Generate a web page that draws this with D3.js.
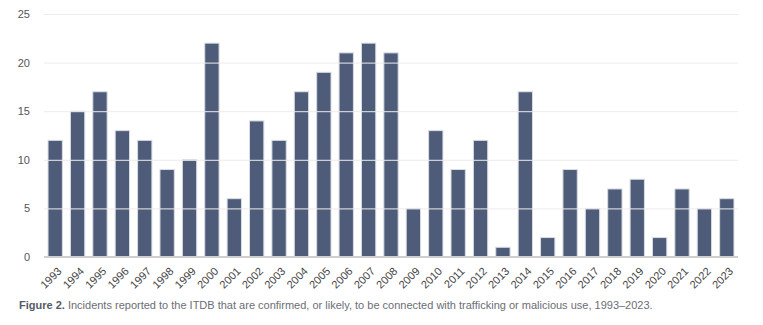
<!DOCTYPE html>
<html><head><meta charset="utf-8">
<script src="https://cdn.jsdelivr.net/npm/d3@7"></script>
<style>body{margin:0;background:#fff}svg{display:block}</style>
</head><body><svg id="c" width="763" height="325"></svg>
<script>
const years = d3.range(1993, 2024).map(String);
const incidents = [12,15,17,13,12,9,10,22,6,14,12,17,19,21,22,21,5,13,9,12,1,17,2,9,5,7,8,2,7,5,6];
const yTicks = [0,5,10,15,20,25];

const svg = d3.select("#c");
const m = {l:44, r:25, t:14, b:68};
const W = 763, H = 325;
const x = d3.scaleBand().domain(years).range([m.l, W - m.r]).paddingInner(0.36).paddingOuter(0.18);
const y = d3.scaleLinear().domain([0,25]).range([H - m.b, m.t]);

svg.append("g").selectAll("rect").data(incidents).join("rect")
  .attr("x", (d,i) => x(years[i])).attr("width", x.bandwidth())
  .attr("y", d => y(d)).attr("height", d => y(0) - y(d))
  .attr("fill", "#4f5c79").attr("stroke", "#d9dce4").attr("stroke-width", 1);

const ga = svg.append("g").attr("transform", `translate(${m.l},0)`)
  .call(d3.axisLeft(y).tickValues(yTicks).tickSize(-(W - m.l - m.r)).tickPadding(14));
ga.select(".domain").remove();
ga.selectAll(".tick line").attr("stroke", "#ececec").attr("stroke-width", 1).attr("opacity", d => d === 0 ? 0 : 1);
ga.selectAll(".tick text").attr("fill", "#555").style("font-family", "Liberation Sans, Arial, sans-serif").style("font-size", "11px");

svg.append("line").attr("x1", m.l).attr("x2", W - m.r).attr("y1", y(0)).attr("y2", y(0))
  .attr("stroke", "#cfcfcf").attr("stroke-width", 2);

const gx = svg.append("g").attr("transform", `translate(0,${y(0)})`)
  .call(d3.axisBottom(x).tickSize(0).tickPadding(9));
gx.select(".domain").remove();
gx.selectAll(".tick text")
  .attr("text-anchor", "end").attr("dx", "-0.5em").attr("dy", "0.6em")
  .attr("transform", "rotate(-45)")
  .attr("fill", "#444").style("font-family", "Liberation Sans, Arial, sans-serif").style("font-size", "11px");

const cap = svg.append("text").attr("x", 19).attr("y", 309)
  .style("font-family", "Liberation Sans, Arial, sans-serif").style("font-size", "11px");
cap.append("tspan").attr("font-weight", "bold").attr("fill", "#555b66").text("Figure 2.");
cap.append("tspan").attr("fill", "#6b6e75").text(" Incidents reported to the ITDB that are confirmed, or likely, to be connected with trafficking or malicious use, 1993\u20132023.");
</script></body></html>
